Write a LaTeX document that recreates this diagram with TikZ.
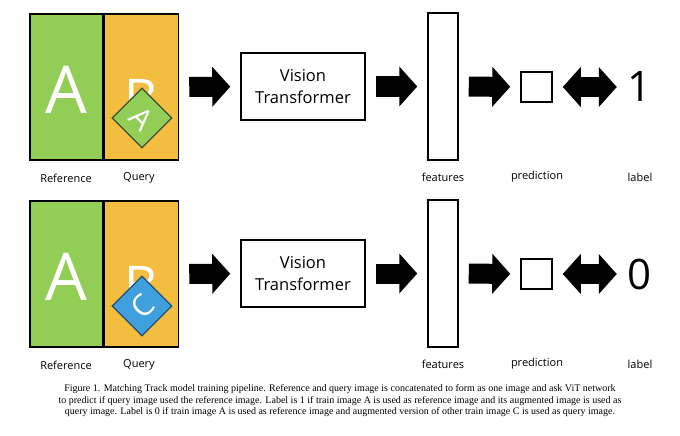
\documentclass[tikz,border=0pt]{standalone}
\usepackage{fontspec}
\setmainfont{Liberation Serif}
\newfontfamily\uifont{Open Sans}
\usetikzlibrary{positioning,arrows.meta}
\definecolor{refgreen}{RGB}{146,206,86}
\definecolor{querygold}{RGB}{243,190,64}
\definecolor{otherblue}{RGB}{64,160,222}
\definecolor{tileedgeG}{RGB}{55,78,58}
\definecolor{tileedgeB}{RGB}{35,78,118}

\begin{document}
\begin{tikzpicture}[
    x=1pt, y=-1pt,
    half/.style={
        rectangle, draw=black, line width=1.5pt,
        minimum width=73pt, minimum height=146pt, inner sep=0pt
    },
    bigletter/.style={text=white, inner sep=0pt, anchor=base},
    tile/.style={rectangle, rotate=45, minimum size=42pt, inner sep=0pt, line width=1.3pt},
    tag/.style={font=\uifont\fontsize{11}{13}\selectfont, inner sep=0pt},
    vitbox/.style={
        rectangle, draw=black, line width=1.5pt,
        minimum width=124pt, minimum height=67pt, inner sep=0pt,
        align=center, font=\uifont\fontsize{16.5}{22.5}\selectfont
    },
    featbox/.style={rectangle, draw=black, line width=1.5pt, minimum width=30pt, minimum height=147pt, inner sep=0pt},
    predbox/.style={rectangle, draw=black, line width=1.5pt, minimum width=31pt, minimum height=30pt, inner sep=0pt},
    value/.style={font=\uifont\fontsize{42}{42}\selectfont, inner sep=0pt, text height=30pt, text depth=0pt},
    arrow/.style={line width=20pt, -{Triangle[length=18pt,width=39pt]}, shorten <=10pt, shorten >=10pt},
    darrow/.style={line width=20pt, {Triangle[length=18pt,width=39pt]}-{Triangle[length=18pt,width=39pt]}, shorten <=10pt, shorten >=10pt}
]
\fill[white] (0,0) rectangle (680,436);
\useasboundingbox (0,0) rectangle (680,436);

% row 1: A with its own augmented copy
\node[half, fill=refgreen] (ref1) at (66.5,87) {};
\node[half, fill=querygold, minimum width=74pt, right=0pt of ref1] (qry1) {};
\node[bigletter, font=\uifont\fontsize{66}{66}\selectfont] (refA1) at (66,113) {A};
\node[bigletter, font=\uifont\fontsize{52}{52}\selectfont] (qryB1) at (141,116) {B};
\node[tile, fill=refgreen, draw=tileedgeG] (tile1) at (142,118) {};
\node[text=white, font=\uifont\fontsize{30}{30}\selectfont, rotate=-45, inner sep=0pt] (tileA1) at (142,119) {A};
\node[tag] (reflab1) at (66,178) {Reference};
\node[tag] (qrylab1) at (139,178) {Query};

\node[vitbox] (vit1) at (303,86.5) {Vision\\Transformer};
\node[featbox] (feat1) at (443,86.5) {};
\node[tag] (featlab1) at (443,177) {features};
\node[predbox] (pred1) at (536.5,87) {};
\node[tag] (predlab1) at (537,177) {prediction};
\node[value] (val1) at (639,87) {1};
\node[tag] (vallab1) at (640,177) {label};

\draw[arrow] (qry1) -- (vit1);
\draw[arrow] (vit1) -- (feat1);
\draw[arrow] (feat1) -- (pred1);
\draw[darrow] (pred1) -- (val1);

% row 2: A with an augmented copy of another image
\node[half, fill=refgreen] (ref2) at (66.5,274) {};
\node[half, fill=querygold, minimum width=74pt, right=0pt of ref2] (qry2) {};
\node[bigletter, font=\uifont\fontsize{66}{66}\selectfont] (refA2) at (66,300) {A};
\node[bigletter, font=\uifont\fontsize{52}{52}\selectfont] (qryB2) at (141,303) {B};
\node[tile, fill=otherblue, draw=tileedgeB] (tile2) at (142,306) {};
\node[text=white, font=\uifont\fontsize{30}{30}\selectfont, rotate=45, inner sep=0pt] (tileC2) at (143,306) {C};
\node[tag] (reflab2) at (66,365) {Reference};
\node[tag] (qrylab2) at (139,365) {Query};

\node[vitbox] (vit2) at (303,273.5) {Vision\\Transformer};
\node[featbox] (feat2) at (443,273.5) {};
\node[tag] (featlab2) at (443,364) {features};
\node[predbox] (pred2) at (536.5,274) {};
\node[tag] (predlab2) at (537,364) {prediction};
\node[value] (val2) at (639,274) {0};
\node[tag] (vallab2) at (640,364) {label};

\draw[arrow] (qry2) -- (vit2);
\draw[arrow] (vit2) -- (feat2);
\draw[arrow] (feat2) -- (pred2);
\draw[darrow] (pred2) -- (val2);

% caption
\node[font=\fontsize{10}{11.5}\selectfont, align=center, inner sep=0pt] (caption) at (340,401) {%
Figure 1. Matching Track model training pipeline. Reference and query image is concatenated to form as one image and ask ViT network\\
to predict if query image used the reference image. Label is 1 if train image A is used as reference image and its augmented image is used as\\
query image. Label is 0 if train image A is used as reference image and augmented version of other train image C is used as query image.};

\end{tikzpicture}
\end{document}
